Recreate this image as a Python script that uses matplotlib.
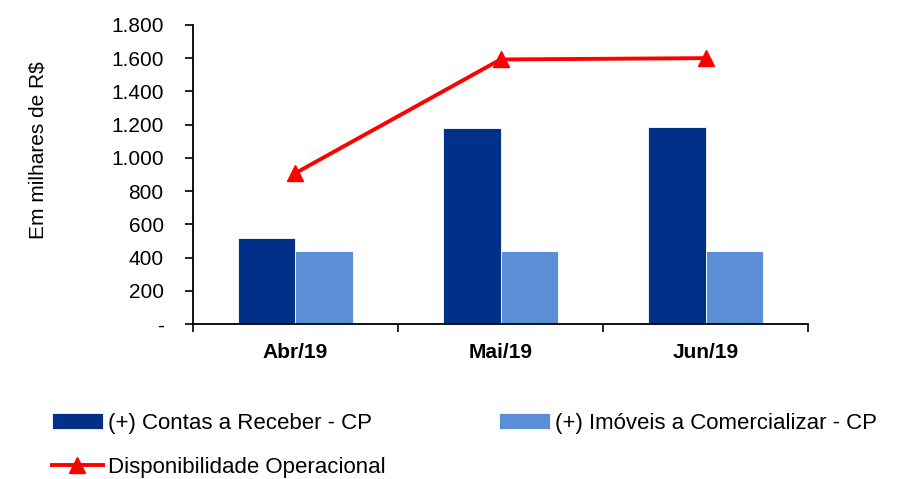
import numpy as np
import matplotlib.pyplot as plt
from matplotlib.ticker import FuncFormatter

plt.rcParams['font.family'] = ['Liberation Sans', 'DejaVu Sans']

meses = ['Abr/19', 'Mai/19', 'Jun/19']
contas_receber = [520, 1180, 1188]
imoveis = [440, 440, 440]
disponibilidade = [908, 1592, 1600]

dark = '#003087'
light = '#5A8FD5'
red = '#FF0000'

fig = plt.figure(figsize=(9.01, 4.79), dpi=100)
ax = fig.add_axes([0.214, 0.3236, 0.683, 0.6244])

x = np.arange(len(meses))
w = 0.28
b1 = ax.bar(x - w / 2, contas_receber, w, color=dark, edgecolor='white', linewidth=0.6,
            label='(+) Contas a Receber - CP')
b2 = ax.bar(x + w / 2, imoveis, w, color=light, edgecolor='white', linewidth=0.6,
            label='(+) Imóveis a Comercializar - CP')
ln, = ax.plot(x, disponibilidade, color=red, lw=2.8, marker='^', ms=11,
              label='Disponibilidade Operacional')

ax.set_xlim(-0.5, 2.5)
ax.set_ylim(0, 1800)
ax.set_yticks(np.arange(0, 1801, 200))


def fmt(v, pos):
    if v == 0:
        return '-'
    return f'{int(v):,}'.replace(',', '.')


ax.yaxis.set_major_formatter(FuncFormatter(fmt))
ax.set_xticks(x)
ax.set_xticklabels(meses, fontweight='bold', fontsize=15)
ax.set_xticks(np.arange(-0.5, 3.0, 1.0), minor=True)
ax.tick_params(axis='x', which='major', length=0, pad=14)
ax.tick_params(axis='x', which='minor', length=6, width=1.2, direction='out')
ax.tick_params(axis='y', length=6, width=1.2, direction='out', labelsize=15, pad=15)

for s in ['top', 'right']:
    ax.spines[s].set_visible(False)
for s in ['left', 'bottom']:
    ax.spines[s].set_linewidth(1.3)

ax.set_ylabel('Em milhares de R$', fontsize=15)
ax.yaxis.set_label_coords(-0.236, 0.582)

leg = fig.legend([b1, ln, b2], [b1.get_label(), ln.get_label(), b2.get_label()],
                 ncol=2, loc='upper left', bbox_to_anchor=(0.045, 0.162),
                 frameon=False, handlelength=2.3, handletextpad=0.23,
                 columnspacing=5.1, labelspacing=1.05, borderpad=0,
                 prop={'family': ['Liberation Sans', 'DejaVu Sans'], 'size': 16})

fig.savefig('out.png', dpi=100)
